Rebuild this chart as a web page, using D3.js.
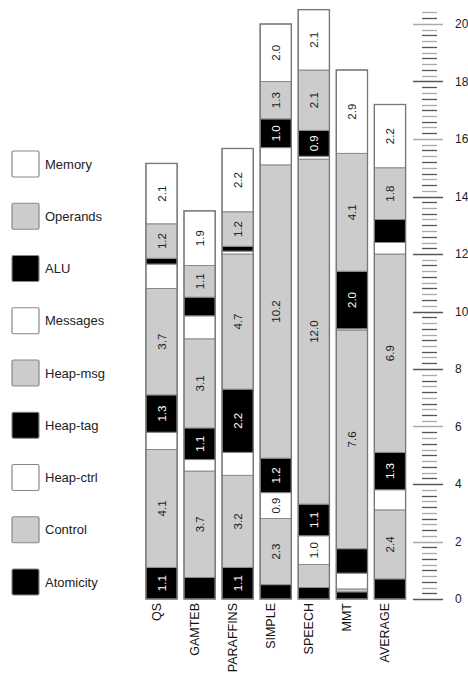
<!DOCTYPE html>
<html><head><meta charset="utf-8">
<script src="https://cdn.jsdelivr.net/npm/d3@7"></script>
<style>body{margin:0;background:#fff}svg{display:block}</style>
</head><body>
<svg id="chart" width="468" height="675"></svg>
<script>
const categories = ["QS","GAMTEB","PARAFFINS","SIMPLE","SPEECH","MMT","AVERAGE"];
// series, bottom to top
const seriesNames = ["Atomicity","Control","Heap-ctrl","Heap-tag","Heap-msg","Messages","ALU","Operands","Memory"];
const atomicity = [1.1, 0.75, 1.1, 0.5, 0.4, 0.25, 0.7];
const control   = [4.1, 3.7, 3.2, 2.3, 0.8, 0.1, 2.4];
const heapCtrl  = [0.6, 0.4, 0.8, 0.9, 1.0, 0.55, 0.7];
const heapTag   = [1.3, 1.1, 2.2, 1.2, 1.1, 0.85, 1.3];
const heapMsg   = [3.7, 3.1, 4.7, 10.2, 12.0, 7.6, 6.9];
const messages  = [0.85, 0.8, 0.1, 0.6, 0.1, 0.05, 0.4];
const alu       = [0.2, 0.65, 0.17, 1.0, 0.9, 2.0, 0.8];
const operands  = [1.2, 1.1, 1.2, 1.3, 2.1, 4.1, 1.8];
const memory    = [2.1, 1.9, 2.2, 2.0, 2.1, 2.9, 2.2];
const seriesValues = [atomicity, control, heapCtrl, heapTag, heapMsg, messages, alu, operands, memory];
const fills = ["#000000","#cccccc","#ffffff","#000000","#cccccc","#ffffff","#000000","#cccccc","#ffffff"];
const majorTicks = [0,2,4,6,8,10,12,14,16,18,20];

const rows = categories.map((c,i)=>{
  const r = {cat:c};
  seriesNames.forEach((s,j)=> r[s] = seriesValues[j][i]);
  return r;
});
const stacked = d3.stack().keys(seriesNames)(rows);

const svg = d3.select("#chart");
const font = "'Liberation Sans', Arial, Helvetica, sans-serif";

const x = d3.scaleBand().domain(categories).range([142.5, 409]).paddingInner(0.18).paddingOuter(0.09);
const y = d3.scaleLinear().domain([0,20]).range([599, 24]);
const color = d3.scaleOrdinal().domain(seriesNames).range(fills);

// bars
const layers = svg.append("g").selectAll("g").data(stacked).join("g")
  .attr("fill", d=>color(d.key));
layers.selectAll("rect").data(d=>d.map(p=>({p, key:d.key}))).join("rect")
  .attr("x", d=>x(d.p.data.cat))
  .attr("width", x.bandwidth())
  .attr("y", d=>y(d.p[1]))
  .attr("height", d=>y(d.p[0]) - y(d.p[1]))
  .attr("stroke", "#8a8a8a")
  .attr("stroke-width", 1);

// outer outline
svg.append("g").selectAll("rect").data(rows).join("rect")
  .attr("x", d=>x(d.cat))
  .attr("width", x.bandwidth())
  .attr("y", (d,i)=>y(stacked[stacked.length-1][i][1]))
  .attr("height", (d,i)=>y(0) - y(stacked[stacked.length-1][i][1]))
  .attr("fill","none").attr("stroke","#777").attr("stroke-width",1.3);

// value labels
const labels = [];
stacked.forEach(layer=>{
  layer.forEach(p=>{
    const v = p.data[layer.key];
    if (v >= 0.9) labels.push({cat:p.data.cat, v, mid:(p[0]+p[1])/2, dark: color(layer.key)==="#000000"});
  });
});
svg.append("g").selectAll("text").data(labels).join("text")
  .attr("transform", d=>`translate(${x(d.cat)+x.bandwidth()/2+4},${y(d.mid)}) rotate(-90)`)
  .attr("text-anchor","middle")
  .attr("font-family", font).attr("font-size", 11.5)
  .attr("fill", d=>d.dark ? "#fff" : "#222")
  .text(d=>d3.format(".1f")(d.v));

// category labels
svg.append("g").selectAll("text").data(categories).join("text")
  .attr("transform", d=>`translate(${x(d)+x.bandwidth()/2-1},603) rotate(-90)`)
  .attr("text-anchor","end")
  .attr("font-family", font).attr("font-size", 12.5)
  .attr("fill","#111")
  .text(d=>d);

// right axis with minor ticks
const axisG = svg.append("g").attr("transform","translate(413,0)");
const minor = d3.range(0, 20.5, 0.2).filter(v=>Math.abs(v/2 - Math.round(v/2)) > 1e-6);
axisG.selectAll("line.minor").data(minor).join("line")
  .attr("x1", 9).attr("x2", 24)
  .attr("y1", d=>Math.round(y(d))+0.5).attr("y2", d=>Math.round(y(d))+0.5)
  .attr("stroke", (d,i)=> i%2 ? "#aaaaaa" : "#555555").attr("stroke-width",1.3);
const lightMajor = [2,6,16,20];
axisG.selectAll("line.major").data(majorTicks).join("line")
  .attr("x1", 0).attr("x2", 30)
  .attr("y1", d=>Math.round(y(d))+0.5).attr("y2", d=>Math.round(y(d))+0.5)
  .attr("stroke", d=> lightMajor.includes(d) ? "#aaaaaa" : "#555555").attr("stroke-width",1.5);
axisG.selectAll("text").data(majorTicks).join("text")
  .attr("x", 42).attr("y", d=>y(d)).attr("dy","0.35em")
  .attr("font-family", font).attr("font-size", 12).attr("fill","#222")
  .text(d=>d);

// legend
const legendOrder = seriesNames.slice().reverse();
const ly = d3.scalePoint().domain(legendOrder).range([164, 582]);
const lg = svg.append("g").selectAll("g").data(legendOrder).join("g")
  .attr("transform", d=>`translate(12,${ly(d)})`);
lg.append("rect").attr("x",0).attr("y",-13).attr("width",27).attr("height",26)
  .attr("rx",1.5).attr("fill", d=>color(d)).attr("stroke","#888").attr("stroke-width",1.2);
lg.append("text").attr("x",33).attr("y",0).attr("dy","0.35em")
  .attr("font-family", font).attr("font-size", 13).attr("fill","#222")
  .text(d=>d);
</script>
</body></html>
